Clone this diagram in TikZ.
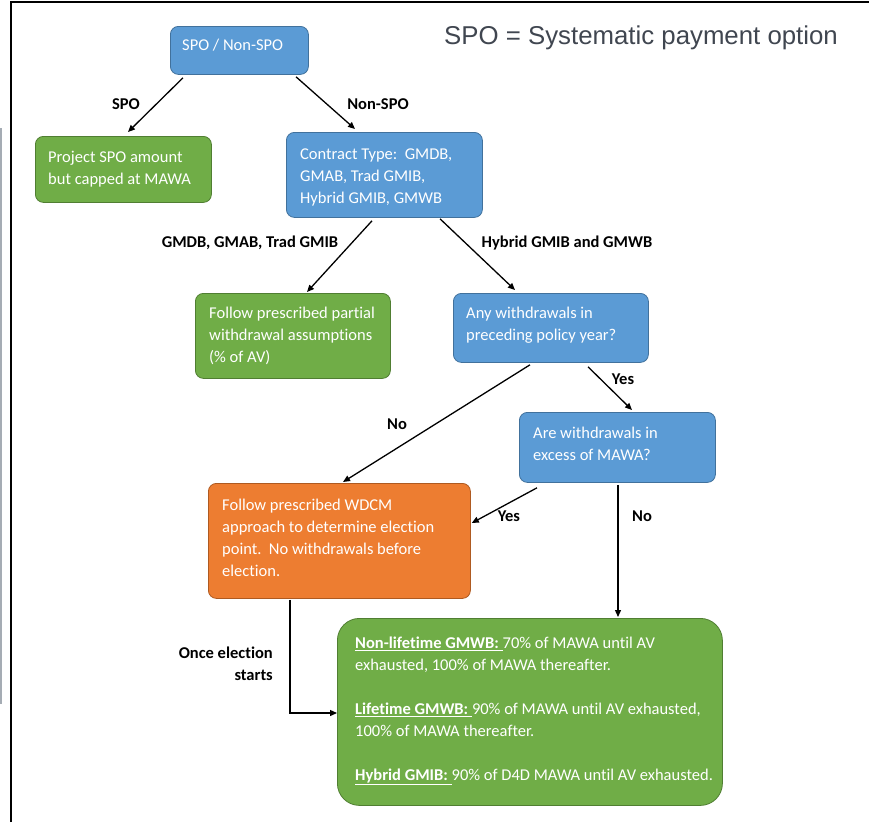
\documentclass[tikz,border=0pt]{standalone}
\usepackage{fontspec}
\setmainfont[Ligatures={NoCommon}]{Carlito}
\newfontfamily\arialf{Liberation Sans}
\usetikzlibrary{arrows.meta}
\definecolor{cblue}{RGB}{91,155,213}
\definecolor{cblueD}{RGB}{65,113,156}
\definecolor{cgreen}{RGB}{112,173,71}
\definecolor{cgreenD}{RGB}{80,126,50}
\definecolor{corange}{RGB}{237,125,49}
\definecolor{corangeD}{RGB}{174,90,33}
\definecolor{titlegray}{RGB}{64,70,80}
\definecolor{sidegray}{RGB}{165,172,180}
\newcommand\fl{\rule{0pt}{14pt}}
\newcommand\bodyfont{\fontsize{16.5}{22}\selectfont}
\tikzset{
  box/.style={draw, rounded corners=8pt, line width=0.8pt, inner sep=0pt, anchor=north west},
  bluebox/.style={box, fill=cblue, draw=cblueD},
  greenbox/.style={box, fill=cgreen, draw=cgreenD},
  orangebox/.style={box, fill=corange, draw=corangeD},
  txt/.style={anchor=north west, inner sep=0pt, align=left, text=white, font=\bodyfont},
  lab/.style={inner sep=0pt, font=\bodyfont\bfseries},
  arr/.style={-{Triangle[length=7pt,width=6pt]}, line width=1.3pt},
}
\begin{document}
\begin{tikzpicture}[x=1pt,y=-1pt]
\useasboundingbox (0,0) rectangle (869,822);
% frame
\draw[line width=2.5pt] (11,822) -- (11,2) -- (869,2);
\draw[sidegray, line width=2pt] (1,128) -- (1,704);
% title
\node[anchor=base west, inner sep=0pt, font=\arialf\fontsize{25.8}{30}\selectfont, text=titlegray] (title) at (444,44) {SPO = Systematic payment option};
% boxes
\node[bluebox, minimum width=138pt, minimum height=48pt] (b1) at (170,26) {};
\node[txt] (t1) at (182,36) {\fl SPO / Non-SPO};
\node[greenbox, minimum width=176pt, minimum height=66pt] (b2) at (35,136) {};
\node[txt] (t2) at (48,148) {\fl Project SPO amount\\but capped at MAWA};
\node[bluebox, minimum width=196pt, minimum height=85pt] (b3) at (286,132) {};
\node[txt] (t3) at (300,145) {\fl Contract Type:\ \ GMDB,\\GMAB, Trad GMIB,\\Hybrid GMIB, GMWB};
\node[greenbox, minimum width=195pt, minimum height=85pt] (b4) at (195,293) {};
\node[txt] (t4) at (209,304) {\fl Follow prescribed partial\\withdrawal assumptions\\(\% of AV)};
\node[bluebox, minimum width=195pt, minimum height=69pt] (b5) at (453,293) {};
\node[txt] (t5) at (466,304) {\fl Any withdrawals in\\preceding policy year?};
\node[bluebox, minimum width=196pt, minimum height=70pt] (b6) at (519,412) {};
\node[txt] (t6) at (533,424) {\fl Are withdrawals in\\excess of MAWA?};
\node[orangebox, minimum width=262pt, minimum height=115pt] (b7) at (208,483) {};
\node[txt] (t7) at (222,496) {\fl Follow prescribed WDCM\\approach to determine election\\point.\ \ No withdrawals before\\election.};
\node[greenbox, rounded corners=22pt, minimum width=385pt, minimum height=187pt] (b8) at (337,618) {};
\node[txt] (t8) at (355,634) {\fl\underline{\textbf{Non-lifetime GMWB:}\ }70\% of MAWA until AV\\exhausted, 100\% of MAWA thereafter.\\[22pt]\underline{\textbf{Lifetime GMWB:}\ }90\% of MAWA until AV exhausted,\\100\% of MAWA thereafter.\\[22pt]\underline{\textbf{Hybrid GMIB:}\ }90\% of D4D MAWA until AV exhausted.};
% connectors
\draw[arr] ([xshift=13pt,yshift=-3pt]b1.south west) -- ([xshift=93pt,yshift=4pt]b2.north west);
\draw[arr] ([xshift=126pt,yshift=-2pt]b1.south west) -- ([xshift=69pt,yshift=3pt]b3.north west);
\draw[arr] ([xshift=86pt,yshift=-3pt]b3.south west) -- ([xshift=112pt,yshift=1pt]b4.north west);
\draw[arr] ([xshift=154pt,yshift=-1pt]b3.south west) -- ([xshift=62pt,yshift=3pt]b5.north west);
\draw[arr] ([xshift=77pt,yshift=-2pt]b5.south west) -- ([xshift=135pt,yshift=1pt]b7.north west);
\draw[arr] ([xshift=135pt,yshift=-4pt]b5.south west) -- ([xshift=113pt,yshift=2pt]b6.north west);
\draw[arr] ([xshift=18pt,yshift=-5pt]b6.south west) -- ([xshift=1pt,yshift=-40pt]b7.north east);
\draw[arr] ([xshift=99pt,yshift=-2pt]b6.south west) -- ([xshift=281pt,yshift=1pt]b8.north west);
\draw[arr] ([xshift=82pt,yshift=-1pt]b7.south west) |- ([yshift=-95pt]b8.north west);
% labels
\node[lab] (l1) at (126,104) {SPO};
\node[lab] (l2) at (378,104) {Non-SPO};
\node[lab] (l3) at (250,243) {GMDB, GMAB, Trad GMIB};
\node[lab] (l4) at (567,243) {Hybrid GMIB and GMWB};
\node[lab] (l5) at (397,424) {No};
\node[lab] (l6) at (623,379) {Yes};
\node[lab] (l7) at (509,516) {Yes};
\node[lab] (l8) at (642,516) {No};
\node[lab, align=right, anchor=east] (l9) at (273,664) {Once election\\starts};
\end{tikzpicture}
\end{document}
